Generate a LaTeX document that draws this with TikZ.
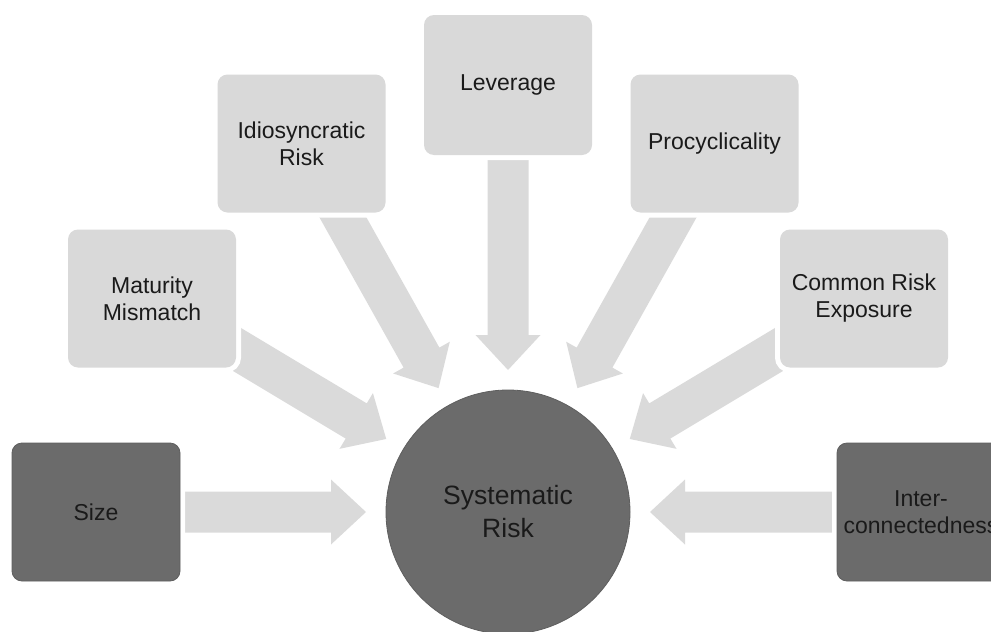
\documentclass[tikz,border=0pt]{standalone}
\usepackage{fontspec}
\setmainfont{Liberation Sans}
\usetikzlibrary{calc,backgrounds}
\definecolor{boxlight}{HTML}{D9D9D9}
\definecolor{arrowgray}{HTML}{DADADA}
\definecolor{boxdark}{HTML}{6B6B6B}
\definecolor{edgedark}{HTML}{5E5E5E}
\definecolor{txt}{HTML}{1A1A1A}
\newcommand\blockarrow[1]{%
  \path ($(sr.center)!142pt!(#1.center)$) coordinate (tip-#1)
        ($(tip-#1)!35pt!(#1.center)$) coordinate (neck-#1);
  \fill[arrowfill] ($(#1.center)!20.5pt!90:(tip-#1)$)
    -- ($(neck-#1)!20.5pt!90:(tip-#1)$)
    -- ($(neck-#1)!32.5pt!90:(tip-#1)$)
    -- (tip-#1)
    -- ($(neck-#1)!32.5pt!-90:(tip-#1)$)
    -- ($(neck-#1)!20.5pt!-90:(tip-#1)$)
    -- ($(#1.center)!20.5pt!-90:(tip-#1)$) -- cycle;}
\begin{document}
\begin{tikzpicture}[x=1pt,y=-1pt,
  box/.style={rectangle, rounded corners=10pt, minimum width=168pt,
    minimum height=138pt, align=center, text=txt, inner sep=0pt,
    font=\fontsize{23}{27}\selectfont,
    preaction={draw=white, line width=10pt}},
  litebox/.style={box, fill=boxlight},
  darkbox/.style={box, fill=boxdark, draw=edgedark, line width=0.8pt},
  arrowfill/.style={fill=arrowgray}]
\useasboundingbox (0,0) rectangle (991,632);
\clip (0,0) rectangle (991,632);
\node[circle, fill=boxdark, draw=edgedark, line width=0.8pt, minimum size=244pt,
  inner sep=0pt, align=center, text=txt, font=\fontsize{26.5}{33}\selectfont]
  (sr) at (508,512) {Systematic\\Risk};
\node[darkbox] (size) at (96,512) {Size};
\node[litebox] (mat) at (152,298.5) {Maturity\\Mismatch};
\node[litebox] (idio) at (301.5,143.5) {Idiosyncratic\\Risk};
\node[litebox, minimum height=140pt] (lev) at (508,85) {Leverage};
\node[litebox] (pro) at (714.5,143.5) {Procyclicality};
\node[litebox] (com) at (864,298.5) {Common Risk\\Exposure};
\node[darkbox] (inter) at (921,512) {Inter-\\connectedness};
\begin{scope}[on background layer]
  \foreach \b in {size,mat,idio,lev,pro,com,inter} {\blockarrow{\b}}
\end{scope}
\end{tikzpicture}
\end{document}
